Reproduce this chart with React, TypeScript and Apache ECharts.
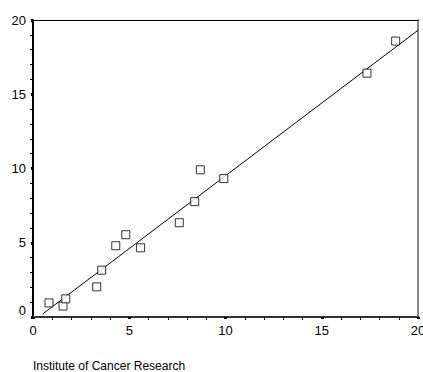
import React, { useEffect, useRef } from "react";
import * as echarts from "echarts";

const pointsX = [0.83, 1.56, 1.70, 3.31, 3.57, 4.30, 4.82, 5.59, 7.60, 8.40, 8.69, 9.91, 17.35, 18.84];
const pointsY = [0.95, 0.74, 1.22, 2.03, 3.15, 4.80, 5.54, 4.66, 6.35, 7.77, 9.91, 9.32, 16.42, 18.58];
const fitX = [0.5, 20];
const fitY = [0.2, 19.31];
const xTitle = "Institute of Cancer Research";

export default function App() {
  const ref = useRef<HTMLDivElement>(null);
  useEffect(() => {
    if (!ref.current) return;
    const chart = echarts.init(ref.current, null, { renderer: "svg" });
    const font = "Liberation Sans, Arial, sans-serif";
    chart.setOption({
      animation: false,
      grid: { left: 33, top: 20, right: 5, bottom: 55, outerBoundsMode: "none", containLabel: false },
      xAxis: [
        {
          type: "value",
          min: 0,
          max: 20,
          interval: 5,
          position: "bottom",
          axisLine: { show: true, onZero: false, lineStyle: { color: "#333", width: 2 } },
          axisTick: { show: true, inside: false, length: 2, lineStyle: { color: "#000", width: 3 } },
          minorTick: { show: true, splitNumber: 5, length: 3, lineStyle: { color: "#000", width: 1 } },
          splitLine: { show: false },
          axisLabel: { color: "#000", fontSize: 13, fontFamily: font, margin: 7 },
          name: xTitle,
          nameLocation: "start",
          nameGap: 0,
          nameTextStyle: {
            color: "#000",
            fontSize: 12,
            fontFamily: font,
            align: "left",
            verticalAlign: "top",
            padding: [43, 0, 0, 0],
          },
        },
        {
          type: "value",
          min: 0,
          max: 20,
          position: "top",
          axisLine: { show: true, onZero: false, lineStyle: { color: "#000", width: 1 } },
          axisTick: { show: false },
          axisLabel: { show: false },
          splitLine: { show: false },
        },
      ],
      yAxis: [
        {
          type: "value",
          min: 0,
          max: 20,
          interval: 5,
          position: "left",
          axisLine: { show: true, onZero: false, lineStyle: { color: "#000", width: 2 } },
          axisTick: { show: true, inside: false, length: 2, lineStyle: { color: "#000", width: 3 } },
          minorTick: { show: true, splitNumber: 5, length: 3, lineStyle: { color: "#000", width: 1 } },
          splitLine: { show: false },
          axisLabel: {
            color: "#000",
            fontSize: 13,
            fontFamily: font,
            margin: 7,
            formatter: (v: number) => (v === 0 ? "{zero|0}" : String(v)),
            rich: { zero: { fontSize: 13, fontFamily: font, color: "#000", padding: [0, 0, 13, 0] } },
          },
        },
        {
          type: "value",
          min: 0,
          max: 20,
          position: "right",
          axisLine: { show: true, onZero: false, lineStyle: { color: "#888", width: 2 } },
          axisTick: { show: false },
          axisLabel: { show: false },
          splitLine: { show: false },
        },
      ],
      series: [
        {
          type: "line",
          data: fitX.map((x, i) => [x, fitY[i]]),
          showSymbol: false,
          symbol: "none",
          lineStyle: { color: "#000", width: 1 },
          z: 2,
        },
        {
          type: "scatter",
          data: pointsX.map((x, i) => [x, pointsY[i]]),
          symbol: "rect",
          symbolSize: 8,
          itemStyle: { color: "#fff", borderColor: "#000", borderWidth: 1 },
          z: 3,
        },
        {
          type: "scatter",
          xAxisIndex: 1,
          yAxisIndex: 1,
          data: [],
          silent: true,
        },
      ],
    });
    return () => chart.dispose();
  }, []);
  return (
    <div
      ref={ref}
      style={{ position: "fixed", left: 0, top: 0, width: 423, height: 372, background: "#fff" }}
    />
  );
}
